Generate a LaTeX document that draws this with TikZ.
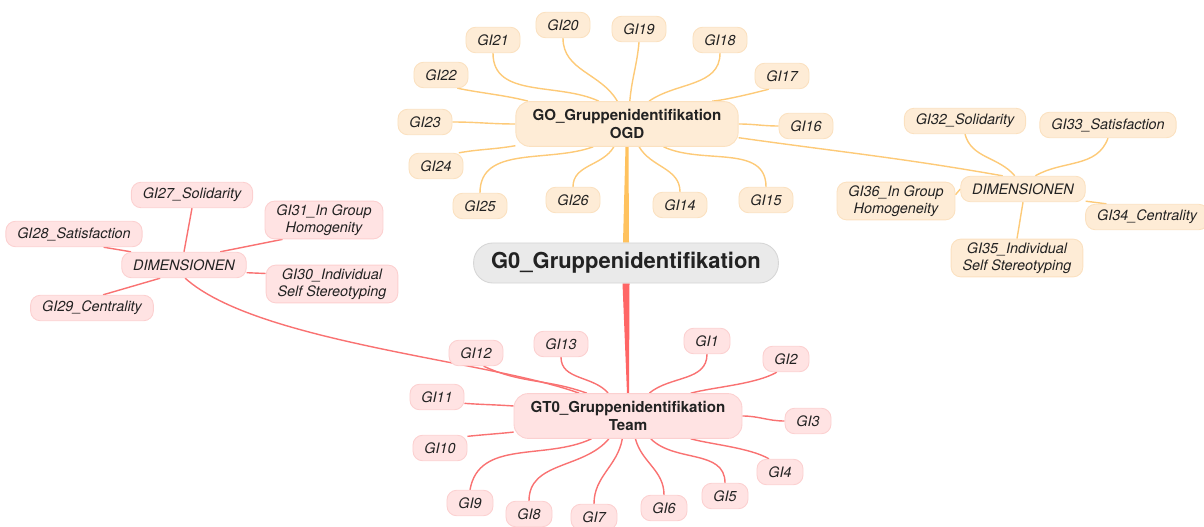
\documentclass[tikz,border=0pt]{standalone}
\usepackage{fontspec}
\setmainfont{TeX Gyre Heros}
\usetikzlibrary{backgrounds,calc}

\definecolor{ogdfill}{HTML}{FEECD6}
\definecolor{ogddraw}{HTML}{FBE1C0}
\definecolor{ogdline}{HTML}{FDCA78}
\definecolor{ogdtrunk}{HTML}{FFC25E}
\definecolor{teamfill}{HTML}{FFE3E3}
\definecolor{teamdraw}{HTML}{FCD0D0}
\definecolor{teamline}{HTML}{F97272}
\definecolor{teamtrunk}{HTML}{FF6666}
\definecolor{rootfill}{HTML}{EAEAEA}
\definecolor{rootdraw}{HTML}{D6D6D6}
\definecolor{inktext}{HTML}{222222}

\begin{document}
\begin{tikzpicture}[
	x=0.02cm, y=-0.02cm,
	text=inktext,
	leaf/.style={rounded corners=5.5pt, inner xsep=6.5pt, inner ysep=2pt, minimum height=14.5pt, align=center, font=\fontsize{8.2}{9.6}\selectfont\itshape, line width=0.5pt},
	ogdleaf/.style={leaf, fill=ogdfill, draw=ogddraw},
	teamleaf/.style={leaf, fill=teamfill, draw=teamdraw},
	hub/.style={rounded corners=8pt, inner xsep=9.5pt, minimum height=25.5pt, align=center, font=\fontsize{8.6}{10}\selectfont\bfseries, line width=0.5pt},
	root/.style={rounded corners=11pt, inner xsep=10pt, minimum height=22.8pt, fill=rootfill, draw=rootdraw, font=\fontsize{12.5}{14}\selectfont\bfseries, line width=0.5pt},
	ogdlink/.style={draw=ogdline, line width=0.8pt},
	teamlink/.style={draw=teamline, line width=0.8pt}
]
\useasboundingbox (0,0) rectangle (1204,527);

% Main topic and the two branch topics.
\node[root] (G0) at (626,263) {G0\_Gruppenidentifikation};
\node[hub, fill=ogdfill, draw=ogddraw] (GO) at (627,124) {GO\_Gruppenidentifikation\\OGD};
\node[hub, fill=teamfill, draw=teamdraw] (GT0) at (628,416) {GT0\_Gruppenidentifikation\\Team};

% Items of the OGD branch.
\foreach \n/\x/\y in {21/493/40, 20/563/25, 19/639/29, 18/720/40, 17/782/76, 16/806/126, 15/766/200,
	14/680/205, 26/573/200, 25/480/206, 24/436/166, 23/425/122, 22/441/75} {
	\node[ogdleaf] (GI\n) at (\x,\y) {GI\n};
}
\node[ogdleaf] (DimOGD) at (1023,189) {DIMENSIONEN};
\node[ogdleaf] (GI32) at (965,121) {GI32\_Solidarity};
\node[ogdleaf] (GI33) at (1108,125) {GI33\_Satisfaction};
\node[ogdleaf] (GI36) at (896,201) {GI36\_In Group\\Homogeneity};
\node[ogdleaf] (GI34) at (1147,217) {GI34\_Centrality};
\node[ogdleaf] (GI35) at (1017,258) {GI35\_Individual\\Self Stereotyping};

% Items of the Team branch.
\foreach \n/\x/\y in {12/476/353, 13/561/344, 1/707/341, 2/786/359, 3/808/421, 4/780/472, 5/725/496,
	6/664/508, 7/594/517, 8/529/514, 9/470/503, 10/440/448, 11/437/397} {
	\node[teamleaf] (GI\n) at (\x,\y) {GI\n};
}
\node[teamleaf] (DimTeam) at (184,265) {DIMENSIONEN};
\node[teamleaf] (GI27) at (192,195) {GI27\_Solidarity};
\node[teamleaf] (GI31) at (324,220) {GI31\_In Group\\Homogenity};
\node[teamleaf] (GI28) at (74,234) {GI28\_Satisfaction};
\node[teamleaf] (GI30) at (332,284) {GI30\_Individual\\Self Stereotyping};
\node[teamleaf] (GI29) at (92,308) {GI29\_Centrality};

\begin{scope}[on background layer]
	% Tapered trunks from the main topic.
	\fill[ogdtrunk] ($(G0.north)+(-3,0)$) -- ($(GO.south)+(-1.5,0)$) -- ($(GO.south)+(1.5,0)$) -- ($(G0.north)+(3,0)$) -- cycle;
	\fill[teamtrunk] ($(G0.south)+(-3.5,0)$) -- ($(GT0.north)+(-1,0)$) -- ($(GT0.north)+(1,0)$) -- ($(G0.south)+(3.5,0)$) -- cycle;

	\foreach \n/\a/\b/\o/\i/\l in {21/south/141/-90/155/1, 20/south/113/-90/120/1, 19/south/83/-95/85/1,
		18/south/46/-90/35/1, 17/-135/15/195/5/0.6, 16/west/east/180/0/1, 15/north/-32/90/-25/1,
		14/north/-62/90/-60/1, 26/north/-120/90/-120/1, 25/north/-146/90/-160/1, 24/30/-169/10/-170/1,
		23/east/west/0/180/1, 22/-39/167/-12/165/0.8} {
		\draw[ogdlink] (GI\n.\a) to[out=\o, in=\i, looseness=\l] (GO.\b);
	}
	\draw[ogdlink] (GO.-7) to[out=-8, in=170] (DimOGD.147);
	\draw[ogdlink] (GI32.south) to[out=-75, in=130] (DimOGD.122);
	\draw[ogdlink] (GI33.south) to[out=-110, in=30] (DimOGD.47);
	\draw[ogdlink] (GI36.6) -- (DimOGD.west);
	\draw[ogdlink] (DimOGD.-11) -- (GI34.162);
	\draw[ogdlink] (DimOGD.south) -- (GI35.north);

	\foreach \n/\a/\b/\o/\i/\l in {12/-60/151/-25/160/1, 13/south/131/-90/130/1, 1/south/47/-90/40/1,
		2/-125/20/-150/15/0.7, 3/west/east/180/0/1, 4/130/-20/150/-15/0.7, 5/north/-45/90/-45/1,
		6/north/-72/90/-75/1, 7/north/-104/90/-100/1, 8/north/-130/90/-130/1, 9/north/-148/80/-155/1,
		10/23/-172/6/-174/1, 11/-13/175/-4/176/1} {
		\draw[teamlink] (GI\n.\a) to[out=\o, in=\i, looseness=\l] (GT0.\b);
	}
	\draw[teamlink] (DimTeam.-85) to[out=-42, in=160, looseness=0.6] (GT0.155);
	\draw[teamlink] (GI27.south) -- (DimTeam.north);
	\draw[teamlink] (GI31.-155) -- (DimTeam.20);
	\draw[teamlink] (GI28.-24) -- (DimTeam.166);
	\draw[teamlink] (GI30.171) -- (DimTeam.-7);
	\draw[teamlink] (GI29.50) -- (DimTeam.-151);
\end{scope}

\end{tikzpicture}
\end{document}
